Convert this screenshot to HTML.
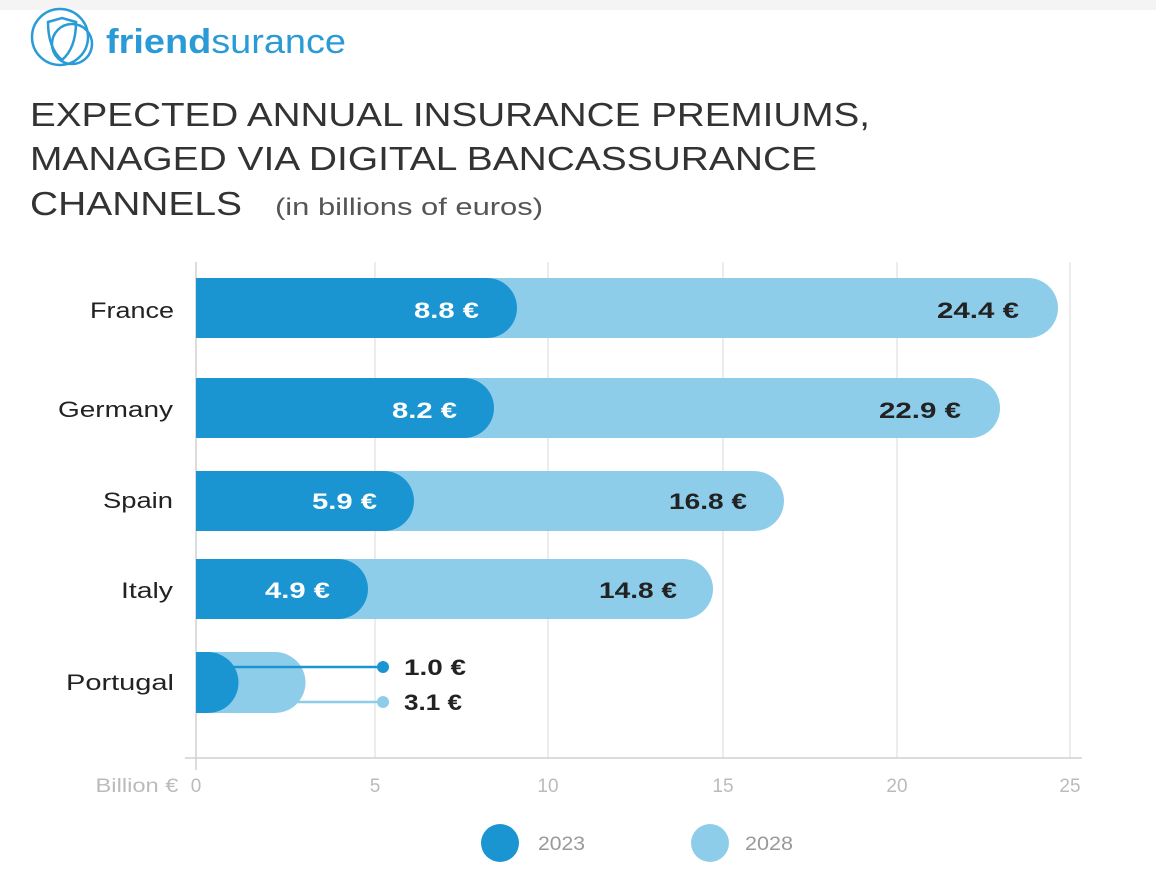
<!DOCTYPE html>
<html><head><style>
body{margin:0;width:1156px;height:870px;background:#fff;overflow:hidden;font-family:"Liberation Sans",sans-serif;}
</style></head><body>
<svg width="1156" height="870" xmlns="http://www.w3.org/2000/svg" font-family="Liberation Sans, sans-serif">
<rect width="1156" height="10" fill="#f4f4f4"/>
<g fill="none" stroke="#2a9bd6" stroke-width="2.5">
<circle cx="60" cy="37" r="28"/><circle cx="72" cy="44" r="20"/>
<path d="M48 22 L62 18 L76 22 Q76 48 62 60 Q48 48 48 22Z"/>
</g>
<text x="106" y="53" font-size="34" fill="#2a9bd6" font-weight="bold" textLength="240" lengthAdjust="spacingAndGlyphs">friend<tspan font-weight="normal">surance</tspan></text>
<g font-size="33" fill="#333">
<text x="30" y="126" textLength="840" lengthAdjust="spacingAndGlyphs">EXPECTED ANNUAL INSURANCE PREMIUMS,</text>
<text x="30" y="170" textLength="787" lengthAdjust="spacingAndGlyphs">MANAGED VIA DIGITAL BANCASSURANCE</text>
<text x="30" y="215" textLength="212" lengthAdjust="spacingAndGlyphs">CHANNELS</text>
<text x="275" y="215" font-size="24" fill="#555" textLength="268" lengthAdjust="spacingAndGlyphs">(in billions of euros)</text>
</g>
<g stroke="#e6e6e6" stroke-width="1.5">
<line x1="375" y1="262" x2="375" y2="758"/><line x1="548" y1="262" x2="548" y2="758"/>
<line x1="723" y1="262" x2="723" y2="758"/><line x1="897" y1="262" x2="897" y2="758"/>
<line x1="1070" y1="262" x2="1070" y2="758"/>
</g>
<line x1="196" y1="262" x2="196" y2="770" stroke="#d0d0d0" stroke-width="1.5"/>
<line x1="185" y1="758" x2="1082" y2="758" stroke="#d0d0d0" stroke-width="1.5"/>
<g font-size="19" fill="#bbb" text-anchor="middle">
<text x="137" y="792" textLength="83" lengthAdjust="spacingAndGlyphs">Billion €</text><text x="196" y="792">0</text><text x="375" y="792">5</text><text x="548" y="792">10</text><text x="723" y="792">15</text><text x="897" y="792">20</text><text x="1070" y="792">25</text>
</g>
<g font-size="22" fill="#222" text-anchor="end">
<text x="174" y="318" textLength="84" lengthAdjust="spacingAndGlyphs">France</text>
<text x="173" y="417" textLength="115" lengthAdjust="spacingAndGlyphs">Germany</text>
<text x="173" y="508" textLength="70" lengthAdjust="spacingAndGlyphs">Spain</text>
<text x="173" y="598" textLength="52" lengthAdjust="spacingAndGlyphs">Italy</text>
<text x="174" y="690" textLength="108" lengthAdjust="spacingAndGlyphs">Portugal</text>
</g>
<g>
<path d="M196 278 H1028 A30 30 0 0 1 1028 338 H196Z" fill="#8ecdea"/>
<path d="M196 278 H487 A30 30 0 0 1 487 338 H196Z" fill="#1a95d2"/>
<path d="M196 378 H970 A30 30 0 0 1 970 438 H196Z" fill="#8ecdea"/>
<path d="M196 378 H464 A30 30 0 0 1 464 438 H196Z" fill="#1a95d2"/>
<path d="M196 471 H754 A30 30 0 0 1 754 531 H196Z" fill="#8ecdea"/>
<path d="M196 471 H384 A30 30 0 0 1 384 531 H196Z" fill="#1a95d2"/>
<path d="M196 559 H683 A30 30 0 0 1 683 619 H196Z" fill="#8ecdea"/>
<path d="M196 559 H338 A30 30 0 0 1 338 619 H196Z" fill="#1a95d2"/>
<path d="M196 652 H275 A30 30 0 0 1 275 713 H196Z" fill="#8ecdea"/>
<path d="M196 652 H208 A30 30 0 0 1 208 713 H196Z" fill="#1a95d2"/>
</g>
<line x1="230" y1="667" x2="383" y2="667" stroke="#1a95d2" stroke-width="2.5"/>
<circle cx="383" cy="667" r="6" fill="#1a95d2"/>
<line x1="296" y1="702" x2="383" y2="702" stroke="#8ecdea" stroke-width="2.5"/>
<circle cx="383" cy="702" r="6" fill="#8ecdea"/>
<g font-size="22" font-weight="bold">
<g fill="#fff"><text x="414" y="318" textLength="65" lengthAdjust="spacingAndGlyphs">8.8 €</text><text x="392" y="418" textLength="65" lengthAdjust="spacingAndGlyphs">8.2 €</text><text x="312" y="509" textLength="65" lengthAdjust="spacingAndGlyphs">5.9 €</text><text x="265" y="598" textLength="65" lengthAdjust="spacingAndGlyphs">4.9 €</text></g>
<g fill="#222"><text x="937" y="318" textLength="82" lengthAdjust="spacingAndGlyphs">24.4 €</text><text x="879" y="418" textLength="82" lengthAdjust="spacingAndGlyphs">22.9 €</text><text x="669" y="509" textLength="78" lengthAdjust="spacingAndGlyphs">16.8 €</text><text x="599" y="598" textLength="78" lengthAdjust="spacingAndGlyphs">14.8 €</text></g>
<g fill="#222"><text x="404" y="675" textLength="62" lengthAdjust="spacingAndGlyphs">1.0 €</text><text x="404" y="710" textLength="58" lengthAdjust="spacingAndGlyphs">3.1 €</text></g>
</g>
<circle cx="500" cy="843" r="19" fill="#1a95d2"/>
<circle cx="710" cy="843" r="19" fill="#8ecdea"/>
<g font-size="19" fill="#999"><text x="538" y="850" textLength="47" lengthAdjust="spacingAndGlyphs">2023</text><text x="745" y="850" textLength="48" lengthAdjust="spacingAndGlyphs">2028</text></g>
</svg>
</body></html>
